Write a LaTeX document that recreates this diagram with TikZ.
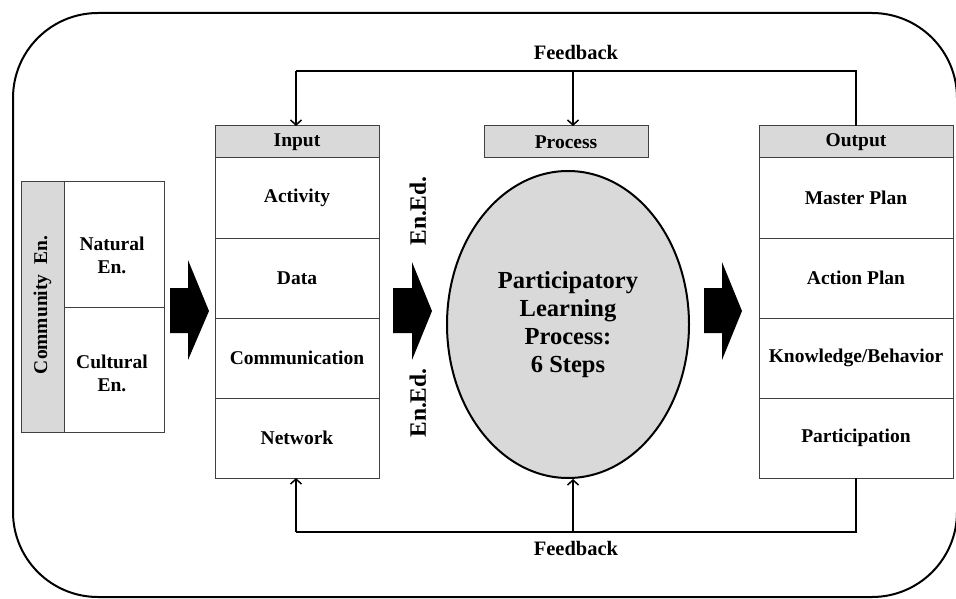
\documentclass[tikz,border=0pt]{standalone}
\usepackage{fontspec}
\setmainfont{Liberation Serif}
\usetikzlibrary{arrows.meta,shapes.geometric}
\definecolor{boxgray}{HTML}{D9D9D9}
\definecolor{edge}{HTML}{404040}
\begin{document}
\begin{tikzpicture}[x=1pt,y=-1pt,
  cell/.style={draw=edge, line width=1pt, rectangle, inner sep=0pt, outer sep=0pt, font=\bfseries\fontsize{19.5}{23}\selectfont, align=center},
  headbox/.style={cell, fill=boxgray},
  lbl/.style={inner sep=0pt, font=\bfseries\fontsize{19.5}{23}\selectfont, align=center},
  fbline/.style={line width=1.5pt},
  fbarrow/.style={line width=1.5pt, -{Straight Barb[length=5pt,width=11pt]}},
  blockarrow/.style={fill=black}
]
\useasboundingbox (0,0) rectangle (956,599);
\fill[white] (0,0) rectangle (956,599);
\draw[line width=2pt, rounded corners=85pt] (13,13) rectangle (957,597);

% Community environment
\node[headbox, minimum width=43pt, minimum height=251pt] (comm) at (42.5,306.5) {};
\node[lbl, rotate=90] (commt) at (42.5,305) {Community\ \ En.};
\node[cell, minimum width=100pt, minimum height=126pt] (nat) at (114,244) {};
\node[cell, minimum width=100pt, minimum height=125pt] (cul) at (114,369.5) {};
\node[lbl] (natt) at (112,255) {Natural\\En.};
\node[lbl] (cult) at (112,373) {Cultural\\En.};

% Input
\node[headbox, minimum width=164pt, minimum height=32pt] (in) at (297,142) {Input};
\node[cell, minimum width=164pt, minimum height=80pt] (in1) at (297,198) {Activity};
\node[cell, minimum width=164pt, minimum height=80pt] (in2) at (297,278) {Data};
\node[cell, minimum width=164pt, minimum height=80pt] (in3) at (297,358) {Communication};
\node[cell, minimum width=164pt, minimum height=80pt] (in4) at (297,438) {Network};

% Process
\node[headbox, minimum width=164pt, minimum height=32pt] (proc) at (566,142) {Process};
\node[draw, line width=2pt, fill=boxgray, ellipse, minimum width=242pt, minimum height=307pt, inner sep=0pt,
      font=\bfseries\fontsize{24.5}{28}\selectfont, align=center] (plp) at (568,324.5)
      {Participatory\\Learning\\Process:\\6 Steps};

% Output
\node[headbox, minimum width=194pt, minimum height=32pt] (out) at (856,142) {Output};
\node[cell, minimum width=194pt, minimum height=80pt] (out1) at (856,198) {Master Plan};
\node[cell, minimum width=194pt, minimum height=80pt] (out2) at (856,278) {Action Plan};
\node[cell, minimum width=194pt, minimum height=80pt] (out3) at (856,358) {Knowledge/Behavior};
\node[cell, minimum width=194pt, minimum height=80pt] (out4) at (856,438) {Participation};

% En.Ed. labels
\node[lbl, rotate=90, font=\bfseries\fontsize{23.5}{26}\selectfont] (ee1) at (418,211) {En.Ed.};
\node[lbl, rotate=90, font=\bfseries\fontsize{23.5}{26}\selectfont] (ee2) at (418,403) {En.Ed.};

% Block arrows
\fill[blockarrow] (170,288) -- (188,288) -- (188,260) -- (209,311) -- (188,360) -- (188,333) -- (170,333) -- cycle;
\fill[blockarrow] (393,288) -- (412,288) -- (412,262) -- (432,311) -- (412,360) -- (412,333) -- (393,333) -- cycle;
\fill[blockarrow] (704,288) -- (722,288) -- (722,262) -- (742,311) -- (722,360) -- (722,333) -- (704,333) -- cycle;

% Feedback loops
\coordinate (ftl) at (296,71);
\coordinate (ftm) at (573,71);
\coordinate (ftr) at (856,71);
\coordinate (fbl) at (296,532);
\coordinate (fbm) at (573,532);
\coordinate (fbr) at (856,532);
\draw[fbline] (out.north) -- (ftr) -- (ftl);
\draw[fbarrow] (ftl) -- (ftl |- in.north);
\draw[fbarrow] (ftm) -- (ftm |- proc.north);
\draw[fbline] (out4.south) -- (fbr) -- (fbl);
\draw[fbarrow] (fbl) -- (fbl |- in4.south);
\draw[fbarrow] (fbm) -- (fbm |- plp.south);
\node[lbl, font=\bfseries\fontsize{20.5}{24}\selectfont] (fbt) at (576,52) {Feedback};
\node[lbl, font=\bfseries\fontsize{20.5}{24}\selectfont] (fbb) at (576,548) {Feedback};
\end{tikzpicture}
\end{document}
